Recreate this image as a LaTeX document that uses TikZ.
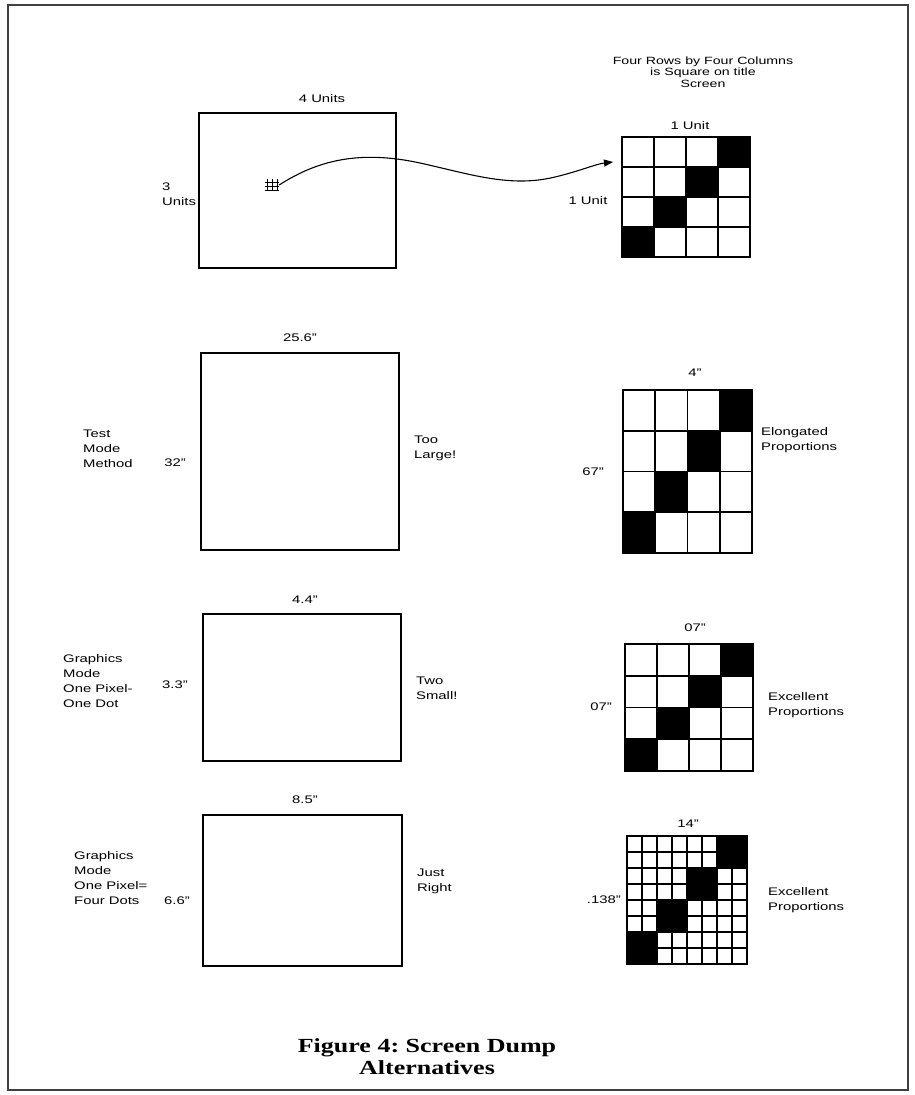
\documentclass[tikz,border=0pt]{standalone}
\usepackage{fontspec}
\setmainfont{Liberation Serif}
\setsansfont{Liberation Sans}
\usepackage{graphicx}
\usetikzlibrary{arrows.meta}
\frenchspacing
\newcommand{\hs}[1]{\scalebox{1.35}[1]{#1}}
\newcommand{\labl}[1]{\hs{\begin{tabular}{@{}l@{}}#1\end{tabular}}}
\newcommand{\labc}[1]{\hs{\begin{tabular}{@{}c@{}}#1\end{tabular}}}
% #1 L, #2 T, #3 R, #4 B, #5 cells per side
\newcommand{\pixgrid}[5]{%
  \pgfmathsetmacro\pgcw{(#3-#1)/#5}%
  \pgfmathsetmacro\pgch{(#4-#2)/#5}%
  \pgfmathsetmacro\pgbw{(#3-#1)/4}%
  \pgfmathsetmacro\pgbh{(#4-#2)/4}%
  \foreach \i in {0,...,3}{\fill (#1+\i*\pgbw, #4-\i*\pgbh) rectangle (#1+\i*\pgbw+\pgbw, #4-\i*\pgbh-\pgbh);}
  \foreach \k in {1,...,#5}{%
    \draw[gridline] (#1+\k*\pgcw,#2) -- (#1+\k*\pgcw,#4);
    \draw[gridline] (#1,#2+\k*\pgch) -- (#3,#2+\k*\pgch);}
}
\begin{document}
\begin{tikzpicture}[x=1pt,y=-1pt,
  lbl/.style={font=\fontsize{11}{15}\selectfont\sffamily, inner sep=0pt},
  ttl/.style={font=\fontsize{10.5}{11.5}\selectfont\sffamily, inner sep=0pt},
  screen/.style={draw, line width=1.6pt, inner sep=0pt},
  gridline/.style={line width=1.6pt},
  frameline/.style={line width=1.2pt, draw=black!75},
  curve/.style={line width=1.1pt, -{Triangle[length=9pt,width=7pt]}}]
\useasboundingbox (0,0) rectangle (915,1095);
\draw[frameline] (8,5) rectangle (908,1090);

% ---- row 1 ----
\node[screen, minimum width=197pt, minimum height=155pt] (s1) at (297.5,190.5) {};
\node[lbl] (u4) at (322,99) {\hs{4 Units}};
\node[lbl, anchor=west] (u3) at (162,195) {\labl{3\\Units}};
\node[inner sep=0pt, minimum width=14pt, minimum height=12pt] (pix) at (272,185) {};
\draw[line width=0.8pt] (267,179) -- (267,191) (272,179) -- (272,191) (277,179) -- (277,191)
  (265,182) -- (279,182) (265,186) -- (279,186) (265,190) -- (279,190);

\pixgrid{622}{137}{750}{257}{4}
\node[screen, minimum width=128pt, minimum height=120pt] (g1) at (686,197) {};
\node[ttl] (t1) at (703,73.5) {\labc{Four Rows by Four Columns\\is Square on title\\Screen}};
\node[lbl] (g1w) at (690,126) {\hs{1 Unit}};
\node[lbl] (g1h) at (588,201) {\hs{1 Unit}};
\coordinate (tip) at (613,162);
\draw[curve] (pix.east) .. controls (318,160) and (360,150) .. (420,163)
  .. controls (470,174) and (510,188) .. (555,177)
  .. controls (580,171) and (596,164) .. (tip);

% ---- row 2 ----
\node[screen, minimum width=198pt, minimum height=197pt] (s2) at (300,451.5) {};
\node[lbl] (s2w) at (300,338) {\hs{25.6"}};
\node[lbl, anchor=west] (s2n) at (83,449.5) {\labl{Test\\Mode\\Method}};
\node[lbl] (s2h) at (175,463) {\hs{32"}};
\node[lbl, anchor=west] (s2r) at (414,448) {\labl{Too\\Large!}};
\pixgrid{623}{390}{752}{553}{4}
\node[screen, minimum width=129pt, minimum height=163pt] (g2) at (687.5,471.5) {};
\node[lbl] (g2w) at (695,373) {\hs{4"}};
\node[lbl, anchor=west] (g2r) at (761,439.5) {\labl{Elongated\\Proportions}};
\node[lbl] (g2h) at (593,472) {\hs{67"}};

% ---- row 3 ----
\node[screen, minimum width=198pt, minimum height=147pt] (s3) at (302,687.5) {};
\node[lbl] (s3w) at (305,600) {\hs{4.4"}};
\node[lbl, anchor=west] (s3n) at (63,681.5) {\labl{Graphics\\Mode\\One Pixel-\\One Dot}};
\node[lbl] (s3h) at (175,685) {\hs{3.3"}};
\node[lbl, anchor=west] (s3r) at (416,689) {\labl{Two\\Small!}};
\pixgrid{625}{644}{753}{771}{4}
\node[screen, minimum width=128pt, minimum height=127pt] (g3) at (689,707.5) {};
\node[lbl] (g3w) at (695,628) {\hs{07"}};
\node[lbl, anchor=west] (g3r) at (768,704.5) {\labl{Excellent\\Proportions}};
\node[lbl] (g3h) at (601,707) {\hs{07"}};

% ---- row 4 ----
\node[screen, minimum width=199pt, minimum height=151pt] (s4) at (302.5,890.5) {};
\node[lbl] (s4w) at (305,800) {\hs{8.5"}};
\node[lbl, anchor=west] (s4n) at (74,879) {\labl{Graphics\\Mode\\One Pixel=\\Four Dots}};
\node[lbl] (s4h) at (177,901) {\hs{6.6"}};
\node[lbl, anchor=west] (s4r) at (417,881) {\labl{Just\\Right}};
\pixgrid{627}{836}{747}{964}{8}
\node[screen, minimum width=120pt, minimum height=128pt] (g4) at (687,900) {};
\node[lbl] (g4w) at (688,824) {\hs{14"}};
\node[lbl, anchor=west] (g4r) at (768,900) {\labl{Excellent\\Proportions}};
\node[lbl, anchor=east] (g4h) at (621,900) {\hs{.138"}};

% ---- caption ----
\node[inner sep=0pt, font=\fontsize{20}{22}\selectfont\bfseries] (cap) at (427,1059)
  {\scalebox{1.3}[1]{\begin{tabular}{@{}c@{}}Figure 4: Screen Dump\\Alternatives\end{tabular}}};
\end{tikzpicture}
\end{document}
